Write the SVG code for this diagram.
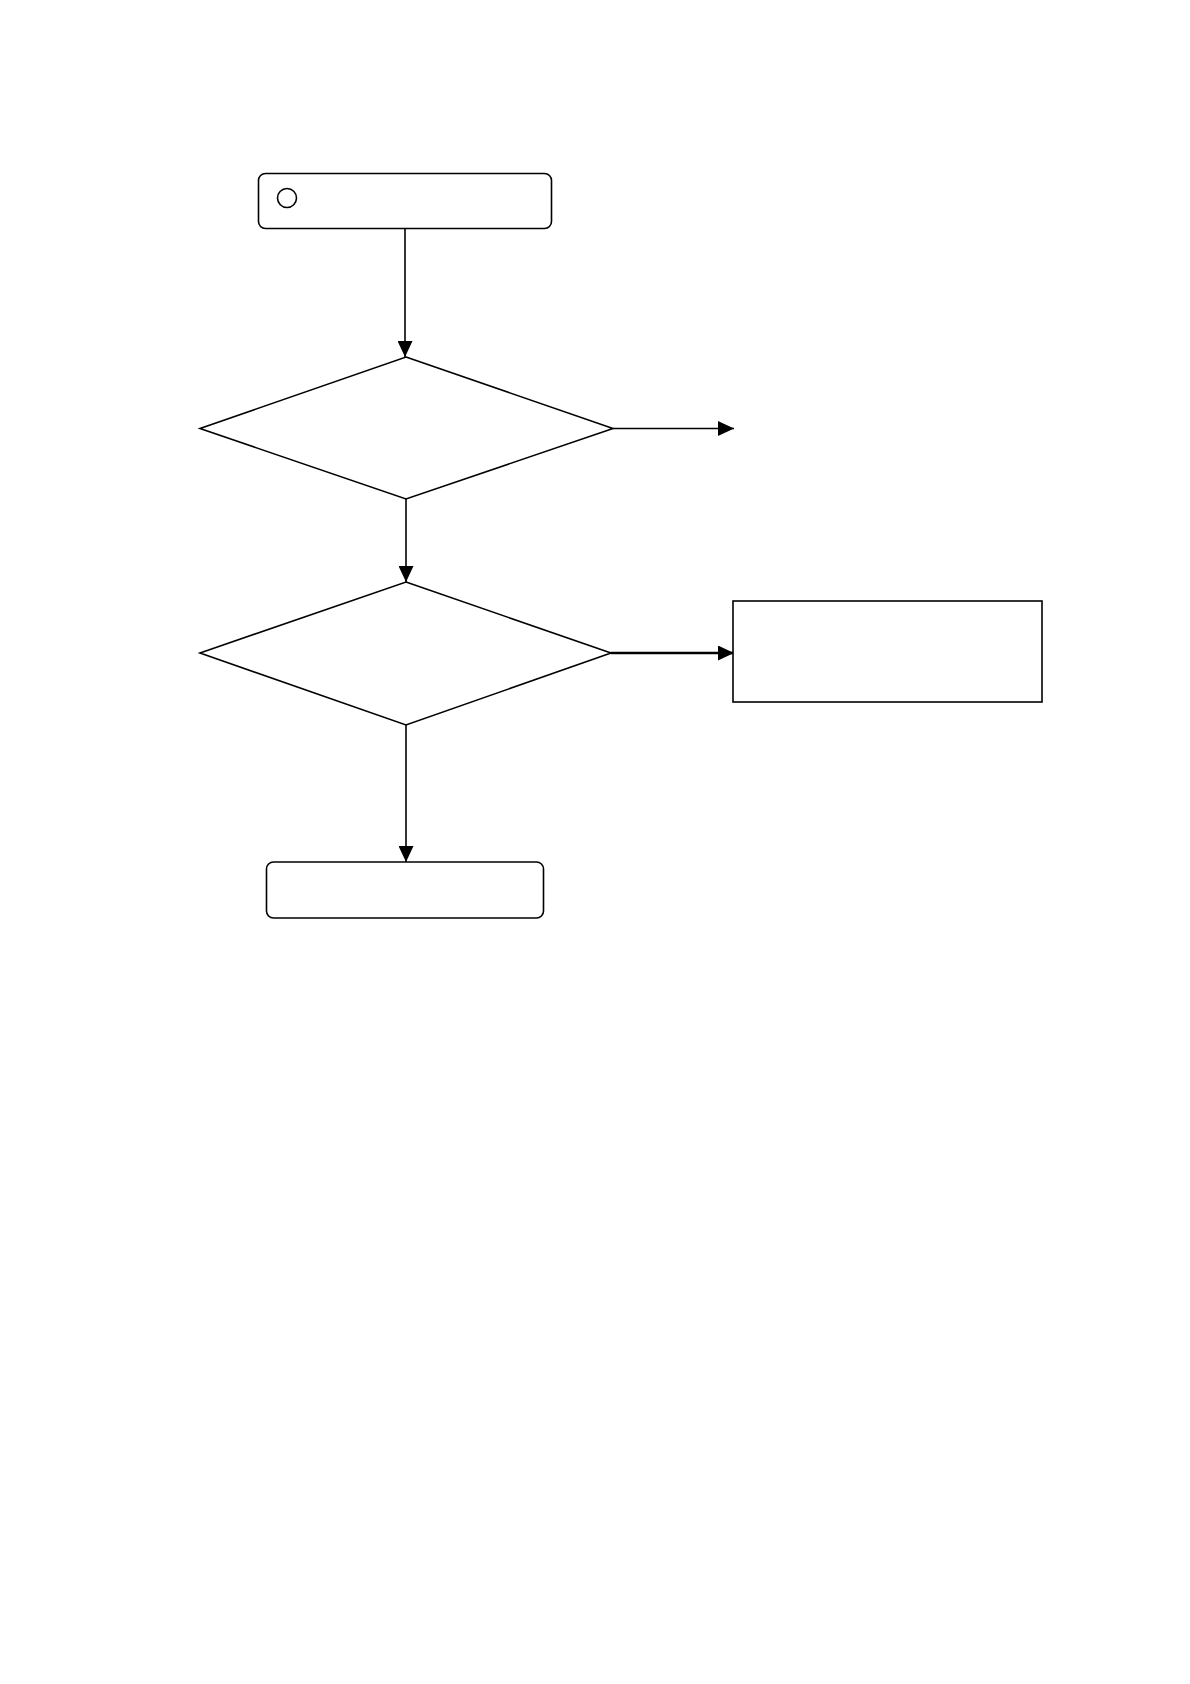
<svg xmlns="http://www.w3.org/2000/svg" width="1190" height="1684" viewBox="0 0 1190 1684">
<style>
.n{fill:#fff;stroke:#000;stroke-width:1.6}
.c{fill:none;stroke:#000;stroke-width:1.6}
.thick{stroke-width:2.4}
</style>
<defs>
<marker id="ah" viewBox="0 0 16 15" refX="16" refY="7.5" markerWidth="16" markerHeight="15" markerUnits="userSpaceOnUse" orient="auto">
<path d="M0,0 L16,7.5 L0,15 Z" fill="#000"/>
</marker>
</defs>
<rect width="1190" height="1684" fill="#fff"/>
<g id="connectors">
<line class="c" x1="405" y1="229" x2="405" y2="357" marker-end="url(#ah)"/>
<line class="c" x1="613" y1="428.5" x2="734" y2="428.5" marker-end="url(#ah)"/>
<line class="c" x1="406" y1="499" x2="406" y2="582" marker-end="url(#ah)"/>
<line class="c thick" x1="611" y1="653" x2="734" y2="653" marker-end="url(#ah)"/>
<line class="c" x1="406" y1="725" x2="406" y2="862" marker-end="url(#ah)"/>
</g>
<g id="start">
<rect class="n" x="258.5" y="173.5" width="293" height="55" rx="7"/>
<circle class="n" cx="287" cy="198" r="9.5" stroke-width="1"/>
</g>
<g id="decision1">
<polygon class="n" points="406,357 613,428.5 406,499 200,428.5"/>
</g>
<g id="decision2">
<polygon class="n" points="406,582 611,653 406,725 200,653"/>
</g>
<g id="process">
<rect class="n" x="733" y="601" width="309" height="101" stroke-width="2"/>
</g>
<g id="end">
<rect class="n" x="266.5" y="862" width="277" height="56" rx="7"/>
</g>
</svg>
